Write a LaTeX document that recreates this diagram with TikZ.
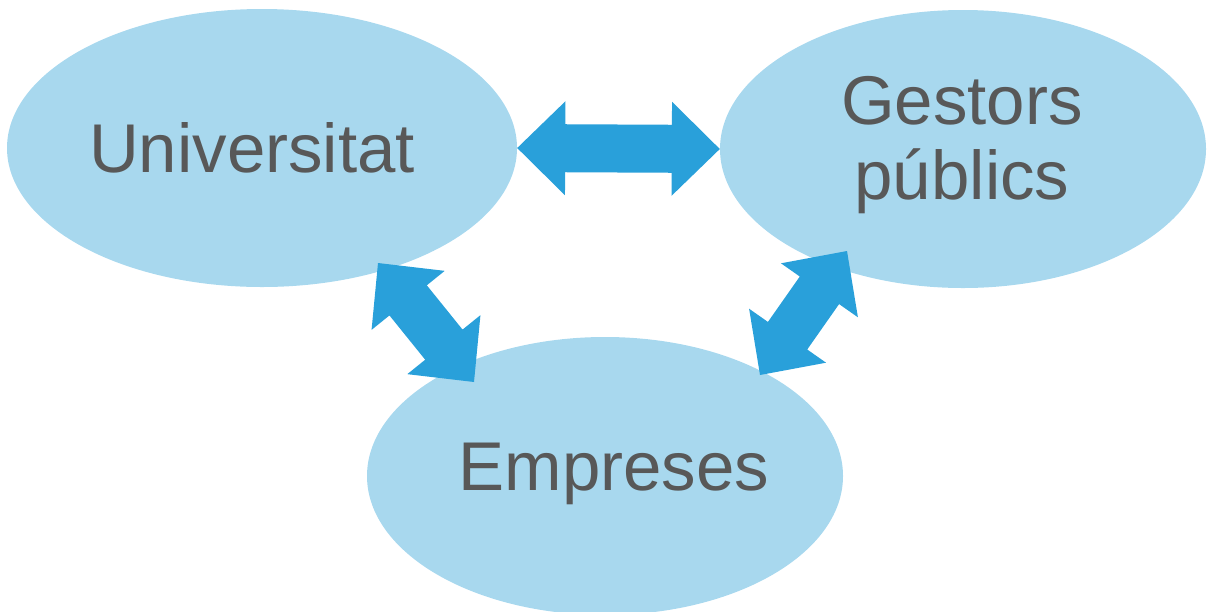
\documentclass[tikz,border=0pt]{standalone}
\usepackage{fontspec}
\setmainfont{Liberation Sans}
\usetikzlibrary{shapes.geometric,calc}
\definecolor{ellfill}{RGB}{168,216,238}
\definecolor{arrblue}{RGB}{41,160,218}
\definecolor{txtgray}{RGB}{88,88,88}
\tikzset{
  blob/.style={ellipse, fill=ellfill, draw=none, inner sep=0pt},
  lbl/.style={text=txtgray, font=\fontsize{69}{75}\selectfont, inner sep=0pt, align=center},
}
\newcommand\fatarrow[2]{%
  \coordinate (h1) at ($(#1)!48pt!(#2)$);
  \coordinate (h2) at ($(#2)!48pt!(#1)$);
  \fill[arrblue] (#1) -- ($(h1)!47pt!90:(#2)$) -- ($(h1)!24pt!90:(#2)$)
    -- ($(h2)!24pt!-90:(#1)$) -- ($(h2)!47pt!-90:(#1)$) -- (#2)
    -- ($(h2)!47pt!90:(#1)$) -- ($(h2)!24pt!90:(#1)$)
    -- ($(h1)!24pt!-90:(#2)$) -- ($(h1)!47pt!-90:(#2)$) -- cycle;
}
\begin{document}
\begin{tikzpicture}[x=1pt,y=-1pt]
\useasboundingbox (0,0) rectangle (1209,611);
\clip (0,0) rectangle (1209,611);
\node[blob, minimum width=510pt, minimum height=278pt] (U) at (262,148) {};
\node[blob, minimum width=486pt, minimum height=278pt] (G) at (963,149) {};
\node[blob, minimum width=476pt, minimum height=278pt] (E) at (605,476) {};
\coordinate (ue) at (378,263);
\coordinate (eu) at (474,382);
\coordinate (ge) at (847,251);
\coordinate (eg) at (760,375);
\fatarrow{U.east}{G.west}
\fatarrow{ue}{eu}
\fatarrow{ge}{eg}
\node[lbl, anchor=base] (tU) at (252,172) {Universitat};
\node[lbl] (tG) at (962,145) {Gestors\\públics};
\node[lbl, anchor=base] (tE) at (614,490) {Empreses};
\end{tikzpicture}
\end{document}
